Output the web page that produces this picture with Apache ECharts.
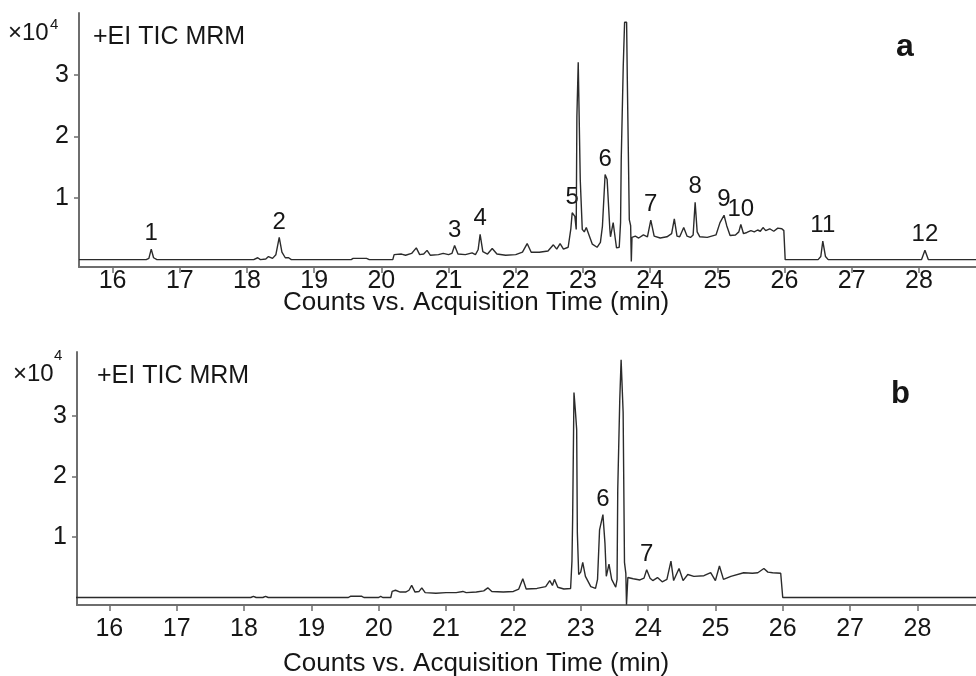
<!DOCTYPE html>
<html>
<head>
<meta charset="utf-8">
<script src="https://cdn.jsdelivr.net/npm/echarts@6/dist/echarts.min.js"></script>
<style>
  html, body { margin: 0; padding: 0; background: #ffffff; }
  #chart { width: 976px; height: 676px; }
</style>
</head>
<body>
<div id="chart"></div>
<script>
// retention time (min) and TIC (x10^4 counts), panel a
var timeA = [15.50, 16.50, 16.54, 16.575, 16.61, 16.66, 18.10, 18.16, 18.20, 18.28, 18.32, 18.38, 18.43, 18.48, 18.52, 18.57, 18.62, 18.66,
  19.55, 19.58, 19.78, 19.82, 20.17, 20.19, 20.30, 20.36, 20.45, 20.52, 20.57, 20.63, 20.68, 20.73, 20.85, 20.92, 21.00, 21.05, 21.09, 21.14,
  21.25, 21.35, 21.40, 21.44, 21.47, 21.51, 21.58, 21.65, 21.72, 21.85, 22.00, 22.10, 22.17, 22.23, 22.35, 22.48, 22.56, 22.61, 22.66, 22.71,
  22.78, 22.82, 22.84, 22.88, 22.90, 22.91, 22.93, 22.955, 22.96, 22.98, 22.99, 23.02, 23.05, 23.09, 23.14, 23.21, 23.26, 23.29, 23.33, 23.36,
  23.40, 23.41, 23.45, 23.48, 23.50, 23.54, 23.56, 23.57, 23.60, 23.62, 23.65, 23.66, 23.68, 23.69, 23.71, 23.72, 23.73, 23.78, 23.83, 23.90,
  23.96, 24.01, 24.06, 24.15, 24.25, 24.32, 24.36, 24.40, 24.44, 24.50, 24.55, 24.60, 24.64, 24.67, 24.70, 24.74, 24.85, 24.98, 25.04, 25.10,
  25.14, 25.19, 25.27, 25.32, 25.35, 25.39, 25.44, 25.50, 25.55, 25.60, 25.64, 25.68, 25.72, 25.78, 25.84, 25.90, 25.96, 25.99, 26.01, 26.50,
  26.54, 26.57, 26.61, 26.65, 28.04, 28.09, 28.14, 28.85];
var countsA = [0.00, 0.00, 0.02, 0.17, 0.03, 0.00, 0.00, 0.03, 0.00, 0.01, 0.05, 0.02, 0.08, 0.36, 0.12, 0.03, 0.03, 0.00,
  0.00, 0.02, 0.02, 0.00, 0.00, 0.08, 0.09, 0.07, 0.10, 0.19, 0.08, 0.09, 0.15, 0.07, 0.08, 0.10, 0.08, 0.10, 0.23, 0.09,
  0.08, 0.11, 0.08, 0.16, 0.41, 0.13, 0.09, 0.18, 0.09, 0.07, 0.08, 0.12, 0.26, 0.12, 0.12, 0.14, 0.24, 0.17, 0.26, 0.17,
  0.20, 0.50, 0.76, 0.70, 0.49, 2.32, 3.20, 3.20, 1.30, 1.30, 0.49, 0.45, 0.52, 0.40, 0.25, 0.20, 0.28, 0.54, 1.38, 1.30,
  0.50, 0.37, 0.60, 0.35, 0.19, 0.20, 0.60, 1.63, 3.14, 3.85, 3.85, 2.96, 2.96, 0.65, 0.55, -0.03, 0.36, 0.38, 0.35, 0.40,
  0.37, 0.64, 0.38, 0.35, 0.37, 0.42, 0.66, 0.38, 0.37, 0.52, 0.38, 0.36, 0.40, 0.93, 0.45, 0.37, 0.36, 0.40, 0.60, 0.72,
  0.55, 0.39, 0.40, 0.45, 0.57, 0.42, 0.44, 0.47, 0.45, 0.48, 0.46, 0.52, 0.47, 0.50, 0.46, 0.51, 0.50, 0.47, 0.00, 0.00,
  0.05, 0.30, 0.05, 0.00, 0.00, 0.15, 0.00, 0.00];

// panel b
var timeB = [15.50, 18.10, 18.14, 18.18, 18.28, 18.32, 18.36, 19.55, 19.58, 19.75, 19.78, 20.00, 20.03, 20.06, 20.18, 20.20, 20.25, 20.32,
  20.40, 20.45, 20.49, 20.54, 20.60, 20.64, 20.69, 20.85, 21.00, 21.15, 21.25, 21.30, 21.45, 21.56, 21.62, 21.68, 21.85, 22.00, 22.08, 22.14,
  22.19, 22.35, 22.48, 22.54, 22.58, 22.61, 22.66, 22.75, 22.85, 22.87, 22.88, 22.90, 22.92, 22.94, 22.95, 22.97, 23.00, 23.03, 23.07, 23.15,
  23.22, 23.25, 23.28, 23.33, 23.36, 23.38, 23.42, 23.46, 23.52, 23.54, 23.55, 23.58, 23.60, 23.62, 23.63, 23.65, 23.67, 23.68, 23.70, 23.78,
  23.88, 23.94, 23.98, 24.03, 24.07, 24.14, 24.21, 24.28, 24.34, 24.38, 24.46, 24.52, 24.59, 24.68, 24.83, 24.93, 25.00, 25.06, 25.12, 25.23,
  25.42, 25.55, 25.63, 25.72, 25.78, 25.85, 25.97, 25.99, 26.00, 28.87];
var countsB = [0.00, 0.00, 0.02, 0.00, 0.00, 0.02, 0.00, 0.00, 0.02, 0.02, 0.00, 0.00, 0.02, 0.00, 0.00, 0.10, 0.12, 0.09,
  0.09, 0.12, 0.20, 0.09, 0.10, 0.16, 0.08, 0.07, 0.08, 0.08, 0.10, 0.08, 0.09, 0.11, 0.16, 0.10, 0.09, 0.10, 0.14, 0.31,
  0.14, 0.15, 0.18, 0.28, 0.20, 0.30, 0.17, 0.14, 0.15, 0.60, 1.29, 3.39, 3.10, 2.78, 1.07, 0.38, 0.42, 0.58, 0.35, 0.18,
  0.15, 0.30, 1.12, 1.37, 0.90, 0.35, 0.55, 0.30, 0.17, 0.30, 1.78, 3.27, 3.93, 3.93, 3.06, 0.58, 0.40, -0.12, 0.33, 0.31,
  0.29, 0.32, 0.46, 0.32, 0.28, 0.33, 0.26, 0.30, 0.60, 0.28, 0.48, 0.28, 0.38, 0.35, 0.36, 0.41, 0.28, 0.52, 0.30, 0.35,
  0.41, 0.40, 0.41, 0.48, 0.42, 0.41, 0.40, 0.38, 0.00, 0.00];

// numbered peaks
var peakTimesA = [16.575, 18.48, 21.09, 21.47, 22.84, 23.33, 24.01, 24.67, 25.10, 25.35, 26.57, 28.09];
var peakNamesA = ['1', '2', '3', '4', '5', '6', '7', '8', '9', '10', '11', '12'];
var peakTimesB = [23.33, 23.98];
var peakNamesB = ['6', '7'];

var xTicks = [16, 17, 18, 19, 20, 21, 22, 23, 24, 25, 26, 27, 28];
var yTicks = [1, 2, 3];

var FONT = 'Liberation Sans, Arial, Helvetica, sans-serif';
var INK = '#161616';
var AXIS = '#6e6e6e';

function zip (xs, ys) {
  var out = [];
  for (var i = 0; i < xs.length; i++) out.push([xs[i], ys[i]]);
  return out;
}

// peak label sits on the top of the trace at that time
function peakPoints (times, names, xs, ys) {
  return times.map(function (t, k) {
    var best = 0;
    for (var i = 0; i < xs.length; i++) {
      if (Math.abs(xs[i] - t) < Math.abs(xs[best] - t)) best = i;
    }
    return { name: names[k], value: [t, ys[best]] };
  });
}

function xAxisFor (grid, min, max, margin) {
  return {
    type: 'value', gridIndex: grid, min: min, max: max,
    axisLine: { show: true, onZero: false, lineStyle: { color: AXIS, width: 2 } },
    axisTick: { show: true, customValues: xTicks, length: 6, lineStyle: { color: AXIS, width: 1.5 } },
    axisLabel: { customValues: xTicks, fontSize: 25, fontFamily: FONT, color: INK, margin: margin },
    splitLine: { show: false }
  };
}

function yAxisFor (grid, min, max) {
  return {
    type: 'value', gridIndex: grid, min: min, max: max,
    axisLine: { show: true, onZero: false, lineStyle: { color: AXIS, width: 2 } },
    axisTick: { show: true, customValues: yTicks, length: 5, lineStyle: { color: AXIS, width: 1.5 } },
    axisLabel: { customValues: yTicks, fontSize: 25, fontFamily: FONT, color: INK, margin: 10 },
    splitLine: { show: false }
  };
}

function traceSeries (idx, xs, ys) {
  return {
    type: 'line', xAxisIndex: idx, yAxisIndex: idx,
    data: zip(xs, ys), showSymbol: false, symbol: 'none',
    lineStyle: { color: '#2b2b2b', width: 1.4 },
    animation: false, silent: true
  };
}

function labelSeries (idx, pts) {
  return {
    type: 'scatter', xAxisIndex: idx, yAxisIndex: idx,
    data: pts, symbolSize: 1, itemStyle: { color: 'rgba(0,0,0,0)', opacity: 1 },
    label: { show: true, position: 'top', distance: 3, formatter: '{b}', fontSize: 24, fontFamily: FONT, color: INK, opacity: 1 },
    animation: false, silent: true
  };
}

function txt (x, y, text, size, weight) {
  return {
    type: 'text', x: x, y: y, silent: true,
    style: { text: text, fontSize: size, fontWeight: weight || 'normal', fontFamily: FONT, fill: INK, verticalAlign: 'middle' }
  };
}

var chart = echarts.init(document.getElementById('chart'));
chart.setOption({
  animation: false,
  grid: [
    { left: 79, right: 0, top: 13, height: 254 },
    { left: 77, right: 0, top: 352, height: 253 }
  ],
  xAxis: [xAxisFor(0, 15.5, 28.85, 2), xAxisFor(1, 15.52, 28.87, 12)],
  yAxis: [yAxisFor(0, -0.12, 4.0), yAxisFor(1, -0.124, 4.06)],
  series: [
    traceSeries(0, timeA, countsA),
    traceSeries(1, timeB, countsB),
    labelSeries(0, peakPoints(peakTimesA, peakNamesA, timeA, countsA)),
    labelSeries(1, peakPoints(peakTimesB, peakNamesB, timeB, countsB))
  ],
  graphic: [
    txt(93, 37, '+EI TIC MRM', 25),
    txt(8, 33, '\u00d710', 24),
    txt(50, 25, '4', 15),
    txt(896, 47, 'a', 32, 'bold'),
    txt(283, 303, 'Counts vs. Acquisition Time (min)', 26),
    txt(97, 376, '+EI TIC MRM', 25),
    txt(13, 374, '\u00d710', 24),
    txt(54, 356, '4', 15),
    txt(891, 394, 'b', 31, 'bold'),
    txt(283, 664, 'Counts vs. Acquisition Time (min)', 26)
  ]
});
</script>
</body>
</html>
